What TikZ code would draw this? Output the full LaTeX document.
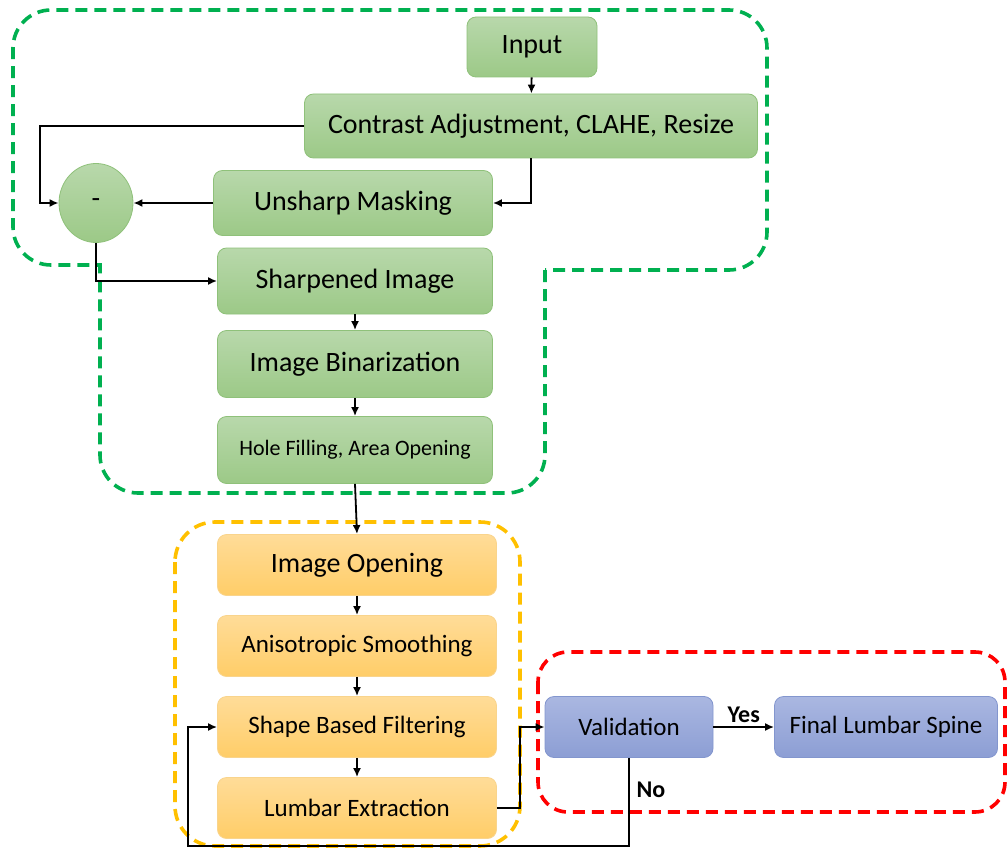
\documentclass[tikz,border=0pt]{standalone}
\usepackage{fontspec}
\setmainfont{Carlito}
\usepackage{xcolor}
\usepackage{tikz}
\usetikzlibrary{shapes.geometric,arrows.meta}
\definecolor{grnTop}{HTML}{B8D8AB}
\definecolor{grnBot}{HTML}{9CC987}
\definecolor{grnLine}{HTML}{8FC17A}
\definecolor{orgTop}{HTML}{FFDC98}
\definecolor{orgBot}{HTML}{FFCD68}
\definecolor{orgLine}{HTML}{F9D48C}
\definecolor{bluTop}{HTML}{AAB7E1}
\definecolor{bluBot}{HTML}{8C9ED4}
\definecolor{bluLine}{HTML}{8396CE}
\definecolor{grpGreen}{HTML}{00B050}
\definecolor{grpYellow}{HTML}{FFC000}
\definecolor{grpRed}{HTML}{FF0000}
\tikzset{
  stepBox/.style={rectangle, rounded corners=9pt, line width=0.8pt, align=center, inner sep=2pt},
  greenBox/.style={stepBox, draw=grnLine, top color=grnTop, bottom color=grnBot},
  orangeBox/.style={stepBox, draw=orgLine, top color=orgTop, bottom color=orgBot},
  blueBox/.style={stepBox, draw=bluLine, top color=bluTop, bottom color=bluBot},
  bigTxt/.style={font=\fontsize{28}{32}\selectfont},
  midTxt/.style={font=\fontsize{25}{29}\selectfont},
  smallTxt/.style={font=\fontsize{22}{26}\selectfont},
  flow/.style={draw=black, line width=1.8pt, -{Latex[length=9pt,width=8pt]}},
  grpLine/.style={line width=3.6pt, dash pattern=on 12pt off 7pt},
  decision/.style={font=\fontsize{24}{28}\selectfont\bfseries},
}

\begin{document}
\begin{tikzpicture}[x=1pt, y=-1pt]
  \useasboundingbox (0,0) rectangle (1007,848);

  % group outlines
  \draw[grpLine, draw=grpGreen] (545,270) [rounded corners=38pt] -- (545,493) -- (100,493)
    [sharp corners] -- (100,265) [rounded corners=38pt] -- (13,265) -- (13,10) -- (767,10)
    -- (767,270) [sharp corners] -- cycle;
  \draw[grpLine, draw=grpYellow, rounded corners=40pt] (175,522) rectangle (520,846);
  \draw[grpLine, draw=grpRed, rounded corners=30pt] (538,652) rectangle (1005,812);

  % green stage
  \node[greenBox, bigTxt, minimum width=130pt, minimum height=60pt] (input) at (532,47) {Input};
  \node[greenBox, bigTxt, minimum width=453pt, minimum height=64pt] (contrast) at (531,126) {Contrast Adjustment, CLAHE, Resize};
  \node[greenBox, bigTxt, minimum width=279pt, minimum height=65pt] (unsharp) at (353,203) {Unsharp Masking};
  \node[ellipse, draw=grnLine, line width=0.8pt, top color=grnTop, bottom color=grnBot,
        minimum width=74pt, minimum height=79pt, bigTxt] (minus) at (96,203) {-};
  \node[greenBox, bigTxt, minimum width=275pt, minimum height=66pt] (sharp) at (355,281) {Sharpened Image};
  \node[greenBox, bigTxt, minimum width=275pt, minimum height=67pt] (binar) at (355,364) {Image Binarization};
  \node[greenBox, smallTxt, minimum width=275pt, minimum height=67pt] (hole) at (355,450) {Hole Filling, Area Opening};

  % orange stage
  \node[orangeBox, bigTxt, minimum width=279pt, minimum height=61pt] (open) at (357,565) {Image Opening};
  \node[orangeBox, midTxt, minimum width=279pt, minimum height=61pt] (aniso) at (357,646) {Anisotropic Smoothing};
  \node[orangeBox, midTxt, minimum width=279pt, minimum height=61pt] (shape) at (357,727) {Shape Based Filtering};
  \node[orangeBox, midTxt, minimum width=279pt, minimum height=61pt] (lumbar) at (357,808) {Lumbar Extraction};

  % blue stage
  \node[blueBox, midTxt, minimum width=168pt, minimum height=61pt] (valid) at (629,727) {Validation};
  \node[blueBox, midTxt, minimum width=223pt, minimum height=61pt] (final) at (886,727) {Final Lumbar Spine};

  \coordinate (fbLeft) at (40,126);
  \coordinate (extTurn) at (520,808);
  \coordinate (noTurn) at (188,846);

  \draw[flow] (input) -- (contrast);
  \draw[flow] (contrast.west) -- (fbLeft) |- (minus.west);
  \draw[flow] (contrast.south) |- (unsharp.east);
  \draw[flow] (unsharp) -- (minus);
  \draw[flow] (minus.south) |- (sharp.west);
  \draw[flow] (sharp) -- (binar);
  \draw[flow] (binar) -- (hole);
  \draw[flow] (hole.south) -- (open.north);
  \draw[flow] (open) -- (aniso);
  \draw[flow] (aniso) -- (shape);
  \draw[flow] (shape) -- (lumbar);
  \draw[flow] (lumbar.east) -- (extTurn) |- (valid.west);
  \draw[flow] (valid) -- node[decision, above] (yesLbl) {Yes} (final);
  \draw[flow] (valid.south) |- (noTurn) |- (shape.west);
  \node[decision] (noLbl) at (651,790) {No};
\end{tikzpicture}
\end{document}
